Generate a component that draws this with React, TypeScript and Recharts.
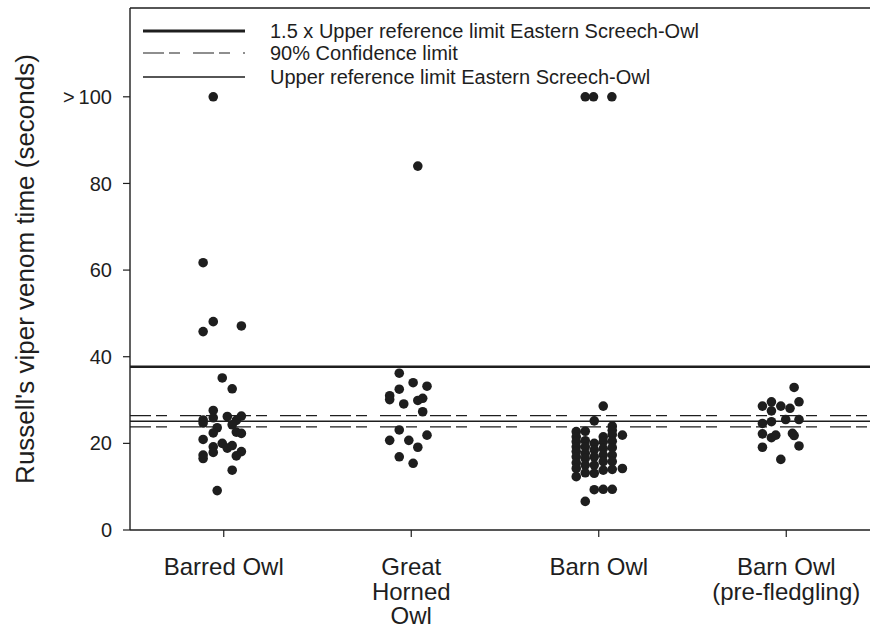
import React from 'react';
import { ScatterChart, Scatter, XAxis, YAxis, ReferenceLine } from 'recharts';

// Categories & tick labels
const categories = ['Barred Owl', 'Great Horned Owl', 'Barn Owl', 'Barn Owl (pre-fledgling)'];
const categoryLabelLines = [['Barred Owl'], ['Great', 'Horned', 'Owl'], ['Barn Owl'], ['Barn Owl', '(pre-fledgling)']];
const categoryPositions = [1, 2, 3, 4];
const yTicks = [0, 20, 40, 60, 80, 100];
const yTickLabels = ['0', '20', '40', '60', '80', '>\u2009100'];
const yLabel = "Russell's viper venom time (seconds)";

// Reference levels (seconds)
const thickUpperLimit = 37.7; // 1.5 x upper reference limit
const upperConfidence = 26.4; // 90% confidence limit (upper)
const referenceLimit = 25.1; // upper reference limit
const lowerConfidence = 23.8; // 90% confidence limit (lower)

const legendItems = [
  '1.5 x Upper reference limit Eastern Screech-Owl',
  '90% Confidence limit',
  'Upper reference limit Eastern Screech-Owl',
];

// Series: horizontal jitter (category units) and values (seconds; >100 plotted at 100)
const barredJitter = [-0.056, -0.11, -0.056, -0.11, 0.094, -0.008, 0.045, -0.056, -0.11, -0.11, -0.056, 0.019, 0.094, 0.067, 0.045, -0.035, -0.056, 0.067, 0.094, -0.11, -0.008, 0.019, 0.045, -0.056, -0.056, -0.11, -0.11, 0.094, 0.067, 0.045, -0.035];
const barredValues = [100, 61.7, 48.1, 45.8, 47.1, 35.1, 32.6, 27.6, 25.4, 24.7, 25.9, 26.2, 26.3, 25.3, 24.3, 23.6, 22.4, 22.6, 22.3, 20.9, 20.0, 18.9, 19.5, 19.2, 17.9, 17.3, 16.5, 18.1, 17.1, 13.8, 9.1];

const greatHornedJitter = [0.035, -0.064, 0.01, 0.084, -0.064, -0.115, -0.115, -0.04, 0.035, 0.061, 0.061, -0.064, 0.084, -0.115, -0.013, 0.035, -0.064, 0.01];
const greatHornedValues = [84.0, 36.2, 34.0, 33.2, 32.5, 31.0, 30.1, 29.1, 29.9, 30.4, 27.3, 23.1, 21.9, 20.7, 20.7, 19.1, 16.9, 15.4];

const barnJitter = [
  -0.072, -0.028, 0.07, 0.024, -0.024,
  -0.12, -0.12, -0.12, -0.12, -0.12, -0.12, -0.12, -0.12, -0.12,
  -0.072, -0.072, -0.072, -0.072, -0.072, -0.072, -0.072, -0.072,
  -0.024, -0.024, -0.024, -0.024, -0.024, -0.024,
  0.024, 0.024, 0.024, 0.024, 0.024, 0.024, 0.024,
  0.072, 0.072, 0.072, 0.072, 0.072, 0.072, 0.072, 0.072, 0.072,
  0.126, 0.126,
];
const barnValues = [
  100, 100, 100, 28.6, 25.2,
  22.7, 21.5, 20.4, 19.2, 18.1, 16.9, 15.5, 14.2, 12.3,
  22.8, 20.6, 19.2, 17.7, 16.5, 15.0, 13.2, 6.6,
  20.0, 18.5, 16.9, 15.0, 13.1, 9.3,
  21.5, 20.4, 18.8, 17.3, 15.8, 13.8, 9.4,
  24.0, 23.0, 22.0, 20.5, 19.0, 17.3, 15.8, 14.0, 9.4,
  21.9, 14.2,
];

const preFledglingJitter = [0.042, 0.068, -0.127, -0.079, -0.029, 0.02, -0.079, -0.127, -0.079, -0.003, 0.068, -0.127, -0.079, -0.056, 0.033, 0.042, -0.127, 0.068, -0.029];
const preFledglingValues = [32.9, 29.6, 28.6, 29.6, 28.6, 28.1, 27.5, 24.6, 25.0, 25.5, 25.5, 22.2, 21.3, 21.9, 22.3, 21.8, 19.1, 19.4, 16.3];

const buildSeries = (pos: number, jitter: number[], values: number[]) =>
  values.map((v, i) => ({ x: pos + jitter[i], y: v }));

const seriesData = [
  buildSeries(categoryPositions[0], barredJitter, barredValues),
  buildSeries(categoryPositions[1], greatHornedJitter, greatHornedValues),
  buildSeries(categoryPositions[2], barnJitter, barnValues),
  buildSeries(categoryPositions[3], preFledglingJitter, preFledglingValues),
];

const FONT = '"Liberation Sans", Arial, Helvetica, sans-serif';
const INK = '#1e1e1e';
const DASH = '21 5 11 13';

const Dot = (props: any) => {
  const { cx, cy } = props;
  if (cx == null || cy == null) return null;
  return <circle cx={cx} cy={cy} r={4.8} fill={INK} />;
};

const CategoryTick = (props: any) => {
  const { x, y, payload } = props;
  const idx = categoryPositions.indexOf(payload.value);
  const lines = idx >= 0 ? categoryLabelLines[idx] : [];
  return (
    <text x={x} y={y} textAnchor="middle" fontSize={24} fill={INK} fontFamily={FONT}>
      {lines.map((l, i) => (
        <tspan key={i} x={x} dy={i === 0 ? 36 : 24.5}>
          {l}
        </tspan>
      ))}
    </text>
  );
};

const YLabel = (props: any) => {
  const vb = props.viewBox || {};
  const cy = (vb.y ?? 8) + (vb.height ?? 522) / 2;
  const cx = 25;
  return (
    <text
      x={cx}
      y={cy}
      transform={`rotate(-90, ${cx}, ${cy})`}
      textAnchor="middle"
      dominantBaseline="central"
      fontSize={26}
      fill={INK}
      fontFamily={FONT}
    >
      {yLabel}
    </text>
  );
};

const legendStyles = [
  { strokeWidth: 3, dash: undefined as string | undefined },
  { strokeWidth: 1.2, dash: DASH },
  { strokeWidth: 1.3, dash: undefined as string | undefined },
];
const legendRowCenters = [31, 53.3, 76.5];

export default function App() {
  return (
    <div style={{ position: 'absolute', left: 0, top: 0, width: 870, height: 628, overflow: 'hidden', background: '#fff' }}>
      <ScatterChart width={880} height={628} margin={{ top: 8, right: 0, bottom: 8, left: 0 }}>
        <XAxis
          type="number"
          dataKey="x"
          domain={[0.5, 4.5]}
          ticks={categoryPositions}
          interval={0}
          tick={<CategoryTick />}
          tickSize={7}
          height={90}
          axisLine={{ stroke: INK, strokeWidth: 1.4 }}
          tickLine={{ stroke: INK, strokeWidth: 1.2 }}
          allowDataOverflow
        />
        <YAxis
          type="number"
          dataKey="y"
          domain={[0, 120.5]}
          ticks={yTicks}
          interval={0}
          width={130}
          tickSize={7}
          tickMargin={11}
          tickFormatter={(v: number) => yTickLabels[yTicks.indexOf(v)] ?? String(v)}
          tick={{ fontSize: 20, fill: INK, fontFamily: FONT }}
          axisLine={{ stroke: INK, strokeWidth: 1.4 }}
          tickLine={{ stroke: INK, strokeWidth: 1.2 }}
          label={<YLabel />}
          allowDataOverflow
        />
        <ReferenceLine y={120.5} stroke={INK} strokeWidth={1.4} />
        <ReferenceLine y={thickUpperLimit} stroke={INK} strokeWidth={2.6} />
        <ReferenceLine y={upperConfidence} stroke={INK} strokeWidth={1.2} strokeDasharray={DASH} />
        <ReferenceLine y={referenceLimit} stroke={INK} strokeWidth={1.3} />
        <ReferenceLine y={lowerConfidence} stroke={INK} strokeWidth={1.2} strokeDasharray={DASH} />
        {seriesData.map((d, i) => (
          <Scatter key={categories[i]} name={categories[i]} data={d} shape={<Dot />} isAnimationActive={false} />
        ))}
      </ScatterChart>
      {legendItems.map((label, i) => (
        <div
          key={label}
          style={{
            position: 'absolute',
            left: 143,
            top: legendRowCenters[i] - 12,
            height: 24,
            display: 'flex',
            alignItems: 'center',
            fontFamily: FONT,
            fontSize: 20,
            color: INK,
            whiteSpace: 'nowrap',
          }}
        >
          <svg width={102} height={24} style={{ display: 'block' }}>
            <line x1={0} x2={102} y1={12} y2={12} stroke={INK} strokeWidth={legendStyles[i].strokeWidth} strokeDasharray={legendStyles[i].dash} />
          </svg>
          <span style={{ marginLeft: 25, lineHeight: '24px' }}>{label}</span>
        </div>
      ))}
    </div>
  );
}
